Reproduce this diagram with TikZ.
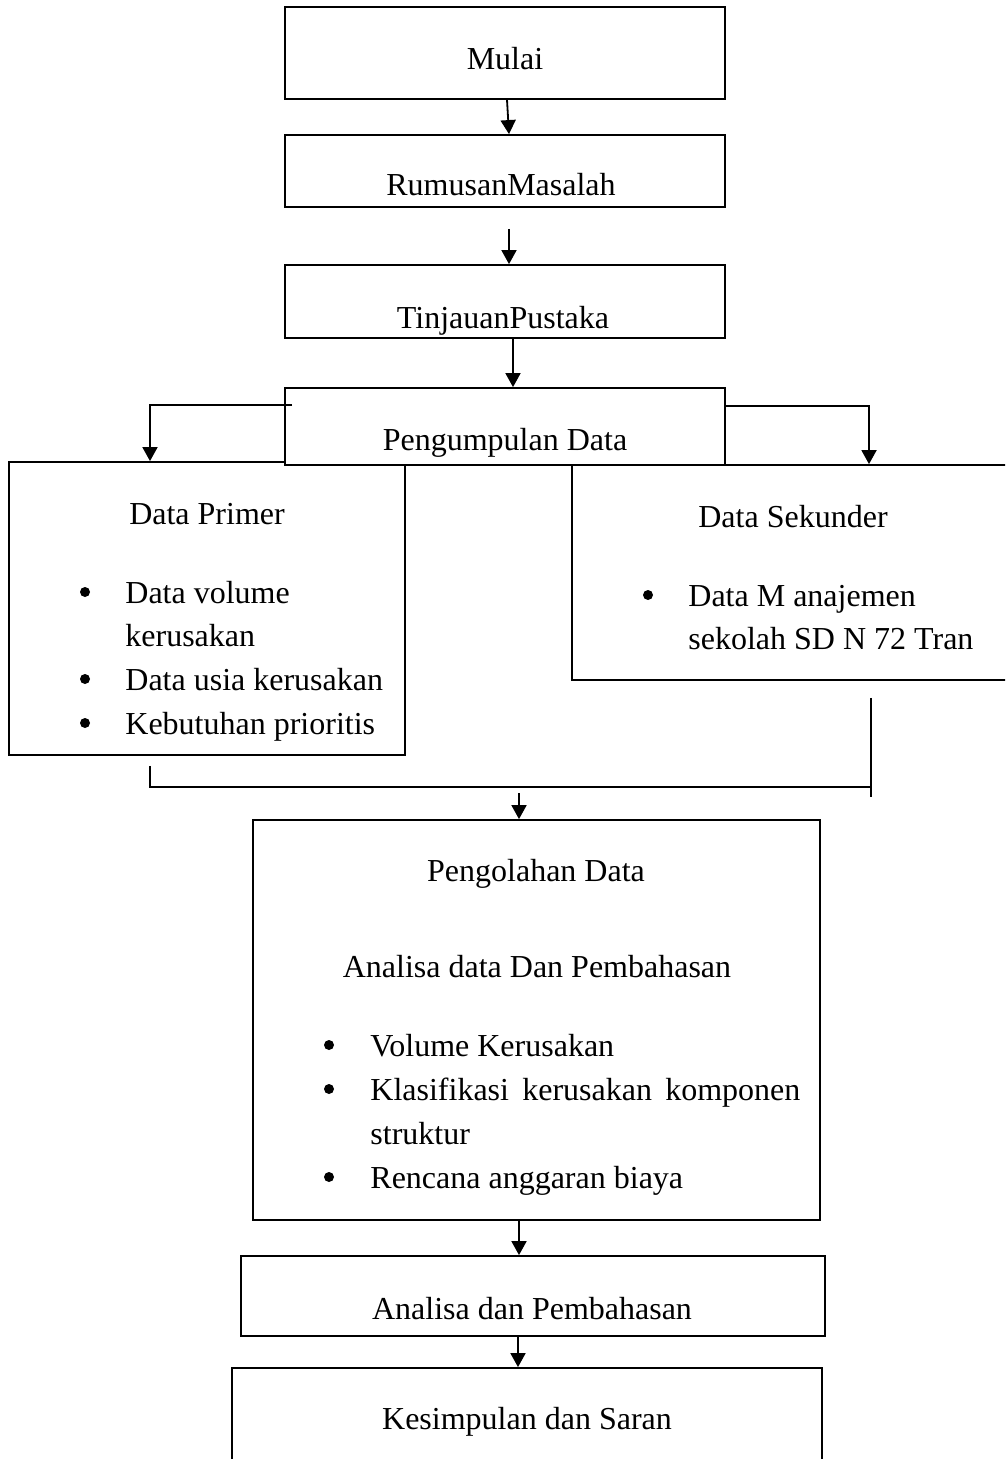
\documentclass[tikz,border=0pt]{standalone}
\usepackage{fontspec}
\setmainfont{Liberation Serif}
\usetikzlibrary{arrows.meta,calc}
\tikzset{
  box/.style={draw=black, line width=0.9pt, fill=white, rectangle, inner sep=0pt},
  conn/.style={draw=black, line width=0.9pt},
  arr/.style={conn, -{Triangle[width=7.5pt,length=7pt]}},
  ttl/.style={inner sep=0pt, anchor=base, font=\fontsize{16}{22}\selectfont},
  itm/.style={inner sep=0pt, anchor=base west, font=\fontsize{16}{22}\selectfont},
  dot/.style={circle, fill=black, inner sep=0pt, minimum size=5pt},
}
\begin{document}
\begin{tikzpicture}[x=0.5pt,y=-0.5pt]
\useasboundingbox (0,0) rectangle (1005,1459);
\clip (0,0) rectangle (1005,1459);
\fill[white] (0,0) rectangle (1005,1459);

% boxes
\node[box, minimum width=220pt, minimum height=46pt] (mulai) at (505,53) {};
\node[box, minimum width=220pt, minimum height=36pt] (rumusan) at (505,171) {};
\node[box, minimum width=220pt, minimum height=36.5pt] (tinjauan) at (505,301.5) {};
\node[box, minimum width=198pt, minimum height=146.5pt] (primer) at (207,608.5) {};
\node[box, minimum width=229pt, minimum height=107.5pt] (sekunder) at (801,572.5) {};
\node[box, minimum width=220pt, minimum height=38.5pt] (pengumpulan) at (505,426.5) {};
\node[box, minimum width=283.5pt, minimum height=200pt] (pengolahan) at (536.5,1020) {};
\node[box, minimum width=292pt, minimum height=40pt] (analisa) at (533,1296) {};
\node[box, minimum width=295pt, minimum height=56pt] (kesimpulan) at (527,1424) {};

% titles
\node[ttl] (tMulai) at (505,70) {Mulai};
\node[ttl] (tRumusan) at (501,196) {RumusanMasalah};
\node[ttl] (tTinjauan) at (503,329) {TinjauanPustaka};
\node[ttl] (tPengumpulan) at (505,451) {Pengumpulan Data};
\node[ttl] (tPrimer) at (207,524) {Data Primer};
\node[ttl] (tSekunder) at (793,528) {Data Sekunder};
\node[ttl] (tPengolahan) at (536,881) {Pengolahan Data};
\node[ttl] (tAnalisaData) at (537,977) {Analisa data Dan Pembahasan};
\node[ttl] (tAnalisa) at (532,1319) {Analisa dan Pembahasan};
\node[ttl] (tKesimpulan) at (527,1429) {Kesimpulan dan Saran};

% Data Primer items
\node[dot] (bP1) at (85,592) {};
\node[itm] (iP1) at (125,603) {Data volume};
\node[itm] (iP1b) at (125,646) {kerusakan};
\node[dot] (bP2) at (85,679) {};
\node[itm] (iP2) at (125,690) {Data usia kerusakan};
\node[dot] (bP3) at (85,723) {};
\node[itm] (iP3) at (125,734) {Kebutuhan prioritis};

% Data Sekunder items
\node[dot] (bS1) at (648,595) {};
\node[itm] (iS1) at (688,606) {Data M anajemen};
\node[itm] (iS1b) at (688,649) {sekolah SD N 72 Tran};

% Pengolahan items
\node[dot] (bO1) at (329,1045) {};
\node[itm] (iO1) at (370,1056) {Volume Kerusakan};
\node[dot] (bO2) at (329,1089) {};
\node[itm] (iO2) at (370,1100) {\makebox[215pt][s]{Klasifikasi kerusakan komponen}};
\node[itm] (iO2b) at (370,1144) {struktur};
\node[dot] (bO3) at (329,1177) {};
\node[itm] (iO3) at (370,1188) {Rencana anggaran biaya};

% connectors
\draw[arr] ([xshift=1pt]mulai.south) -- ([xshift=2pt]rumusan.north);
\draw[arr] ([xshift=2pt,yshift=-10.5pt]rumusan.south) -- ([xshift=2pt]tinjauan.north);
\draw[arr] ([xshift=4pt]tinjauan.south) -- ([xshift=4pt]pengumpulan.north);
\draw[arr] ([xshift=4pt,yshift=10.75pt]pengumpulan.west) -| ([xshift=-28.5pt]primer.north);
\draw[arr] ([yshift=10.25pt]pengumpulan.east) -| ([xshift=34pt]sekunder.north);

\coordinate (join) at (871,787);
\coordinate (joinArrow) at (519,793);
\draw[conn] ([xshift=-28.5pt,yshift=-5pt]primer.south) |- (join);
\draw[conn] ([xshift=35pt,yshift=-8.5pt]sekunder.south) -- ([yshift=-5pt]join);
\draw[arr] (joinArrow) -- ([xshift=-8.75pt]pengolahan.north);
\draw[arr] ([xshift=-8.75pt]pengolahan.south) -- ([xshift=-7pt]analisa.north);
\draw[arr] ([xshift=-7.5pt]analisa.south) -- ([xshift=-4.5pt]kesimpulan.north);
\end{tikzpicture}
\end{document}
